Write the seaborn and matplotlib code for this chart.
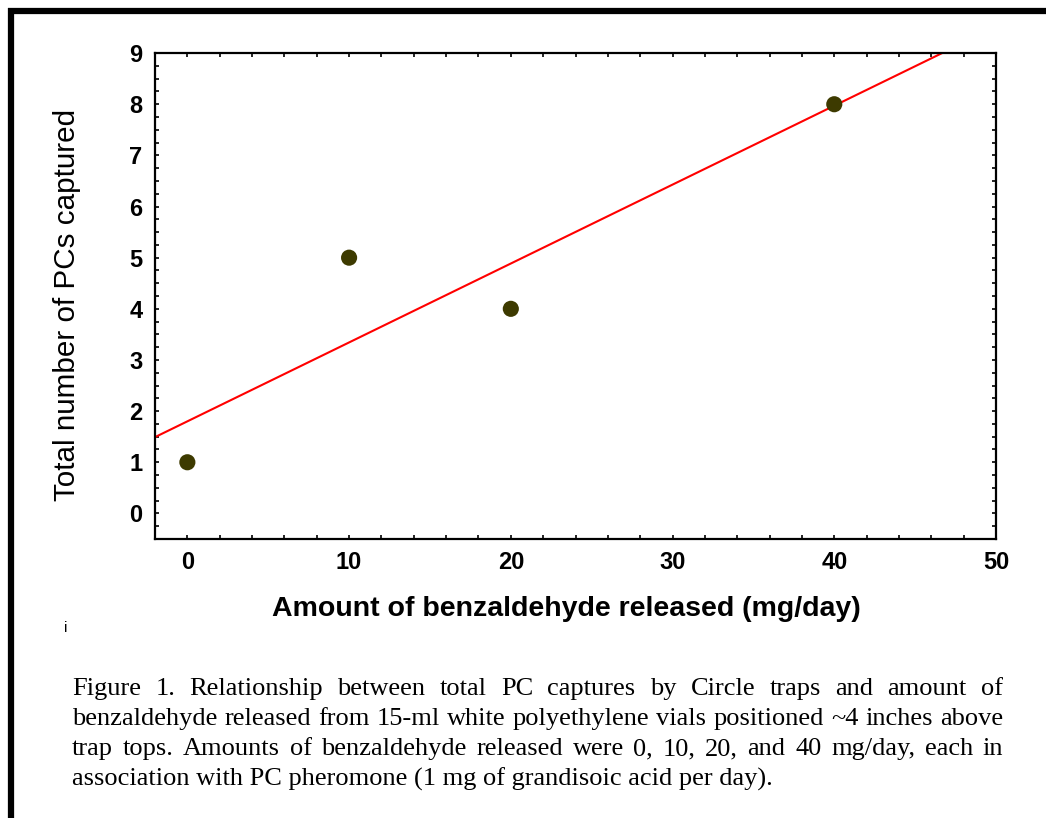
import matplotlib
matplotlib.use("Agg")
import matplotlib.pyplot as plt
from matplotlib.lines import Line2D
from matplotlib.ticker import MultipleLocator
import pandas as pd
import seaborn as sns

sns.set_theme(style="ticks")
plt.rcParams["font.family"] = ["Liberation Sans", "DejaVu Sans"]
plt.rcParams["text.color"] = "black"
plt.rcParams["axes.labelcolor"] = "black"
plt.rcParams["xtick.color"] = "black"
plt.rcParams["ytick.color"] = "black"

# data
benzaldehyde = [0, 10, 20, 40]
captures = [1, 5, 4, 8]
x_ticks = [0, 10, 20, 30, 40, 50]
y_ticks = [0, 1, 2, 3, 4, 5, 6, 7, 8, 9]

caption_lines = [
    "Figure 1. Relationship between total PC captures by Circle traps and amount of",
    "benzaldehyde released from 15-ml white polyethylene vials positioned ~4 inches above",
    "trap tops. Amounts of benzaldehyde released were 0, 10, 20, and 40 mg/day, each in",
    "association with PC pheromone (1 mg of grandisoic acid per day).",
]

df = pd.DataFrame({"amount": benzaldehyde, "total": captures})

fig = plt.figure(figsize=(10.46, 8.18), dpi=100)
ax = fig.add_axes([0.1482, 0.3411, 0.804, 0.594])
ax.set_xlim(-2, 50)
ax.set_ylim(-0.5, 9)

sns.regplot(
    data=df, x="amount", y="total", ax=ax, ci=None, truncate=False,
    scatter_kws={"s": 135, "color": "#3d3a00", "alpha": 1,
                 "edgecolor": "none", "zorder": 3},
    line_kws={"color": "#ff0000", "lw": 1.5, "zorder": 2},
)
ax.set_xlim(-2, 50)
ax.set_ylim(-0.5, 9)

ax.set_xticks(x_ticks)
ax.set_yticks(y_ticks)
ax.xaxis.set_minor_locator(MultipleLocator(2))
ax.yaxis.set_minor_locator(MultipleLocator(0.25))
ax.tick_params(which="both", direction="in", top=True, right=True,
               length=3, width=1.2, color="black")
ax.tick_params(axis="both", which="major", labelsize=17, pad=9)
for lab in ax.get_xticklabels() + ax.get_yticklabels():
    lab.set_fontweight("bold")
for s in ax.spines.values():
    s.set_linewidth(1.6)
    s.set_color("black")

ax.set_xlabel("Amount of benzaldehyde released (mg/day)", fontsize=20.5,
              fontweight="bold")
ax.set_ylabel("Total number of PCs captured", fontsize=21.3)
ax.xaxis.set_label_coords(0.489, -0.118)
ax.yaxis.set_label_coords(-0.088, 0.481)

# thick frame lines (top and left)
fig.add_artist(Line2D([8 / 1046, 1], [1 - 11 / 818] * 2, color="black", lw=4.5,
                      transform=fig.transFigure, solid_capstyle="butt"))
fig.add_artist(Line2D([11 / 1046] * 2, [0, 1 - 8 / 818], color="black", lw=4.5,
                      transform=fig.transFigure, solid_capstyle="butt"))
fig.text(66 / 1046, 1 - 628 / 818, "i", fontsize=11, ha="center", va="center")

# justified caption
fig.canvas.draw()
renderer = fig.canvas.get_renderer()
x0, x1 = 72, 1003
line_y = [689, 719, 749, 779]
cap_font = {"family": ["Liberation Serif", "DejaVu Serif"], "size": 19}
for i, (line, yy) in enumerate(zip(caption_lines, line_y)):
    yf = 1 - yy / 818
    if i == len(caption_lines) - 1:
        fig.text(x0 / 1046, yf, line, ha="left", va="center", fontdict=cap_font)
        continue
    words = line.split(" ")
    texts = [fig.text(0, yf, w, ha="left", va="center", fontdict=cap_font)
             for w in words]
    widths = [t.get_window_extent(renderer).width for t in texts]
    gap = (x1 - x0 - sum(widths)) / (len(words) - 1)
    pos = x0
    for t, w in zip(texts, widths):
        t.set_x(pos / 1046)
        pos += w + gap

fig.savefig("out.png", dpi=100, facecolor="white")
